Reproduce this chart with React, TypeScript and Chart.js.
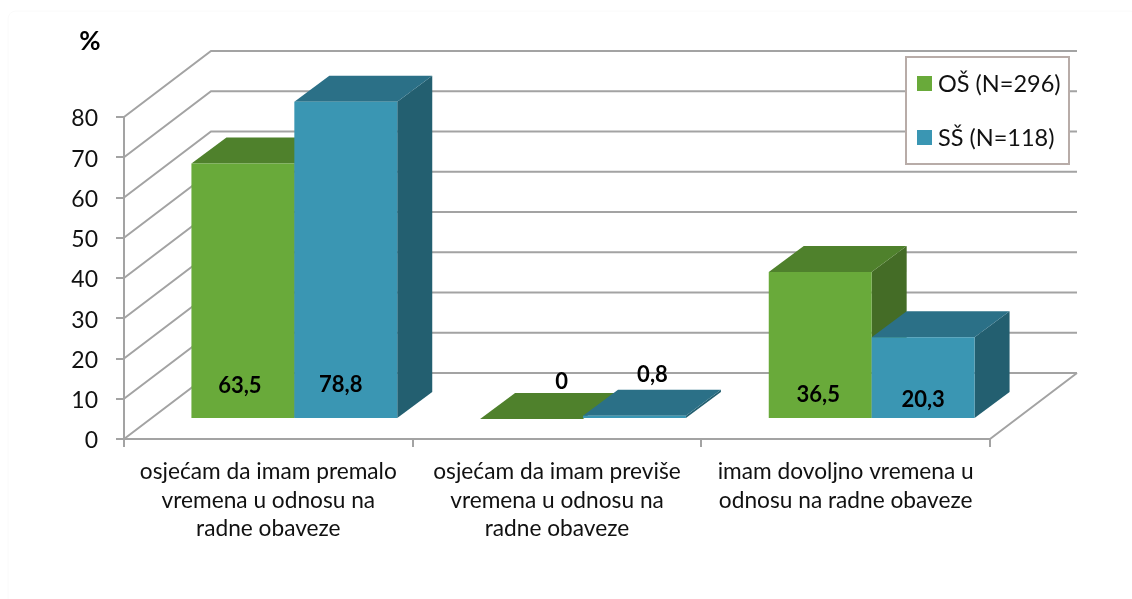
import React, { useEffect, useRef } from "react";
import { Chart, registerables } from "chart.js";

Chart.register(...registerables);

const categories = [
  ["osjećam da imam premalo", "vremena u odnosu na", "radne obaveze"],
  ["osjećam da imam previše", "vremena u odnosu na", "radne obaveze"],
  ["imam dovoljno vremena u", "odnosu na radne obaveze"],
];
const osValues = [63.5, 0, 36.5];
const ssValues = [78.8, 0.8, 20.3];
const seriesNames = ["OŠ (N=296)", "SŠ (N=118)"];
const yTicks = [0, 10, 20, 30, 40, 50, 60, 70, 80];

const FONT = "Lato, 'Open Sans', sans-serif";
const GRID = "#a3a3a3";
const faces = [
  { front: "#69aa3a", top: "#4f812c", side: "#446c26" },
  { front: "#3a96b3", top: "#2b7087", side: "#235f70" },
];
// 3D projection of the wall and the bars
const WALL = { dx: 87, dy: -66 };
const BAR_SHIFT = { dx: 26, dy: -20 };
const BAR_DEPTH = { dx: 35, dy: -26 };
// label offsets from the front base centre of each bar
const LABEL_OFFSETS = [
  [[-3, -32], [-5, -33]],
  [[30, -37], [18, -43]],
  [[-2, -23], [0, -18]],
];

const depth3d = {
  id: "depth3d",
  beforeDatasetsDraw(chart: any) {
    const { ctx, scales, chartArea } = chart;
    const { left, right, bottom } = chartArea;
    ctx.save();
    ctx.strokeStyle = "#fafafa";
    ctx.lineWidth = 1;
    ctx.beginPath();
    ctx.roundRect(8, 11, 1130, 600, 8);
    ctx.stroke();
    ctx.strokeStyle = GRID;
    ctx.lineWidth = 2;
    ctx.beginPath();
    yTicks.forEach((t) => {
      const y = scales.y.getPixelForValue(t);
      ctx.moveTo(left, y);
      ctx.lineTo(left + WALL.dx, y + WALL.dy);
      ctx.lineTo(right + WALL.dx, y + WALL.dy);
    });
    ctx.moveTo(right, bottom);
    ctx.lineTo(right + WALL.dx, bottom + WALL.dy);
    ctx.stroke();
    ctx.restore();
  },
  beforeDatasetDraw() {
    return false;
  },
  afterDatasetsDraw(chart: any) {
    const { ctx } = chart;
    const poly = (pts: number[][], fill: string) => {
      ctx.fillStyle = fill;
      ctx.beginPath();
      pts.forEach(([x, y], i) => (i ? ctx.lineTo(x, y) : ctx.moveTo(x, y)));
      ctx.closePath();
      ctx.fill();
    };
    chart.data.datasets.forEach((_: any, d: number) => {
      const meta = chart.getDatasetMeta(d);
      meta.data.forEach((bar: any) => {
        const { x, y, base, width } = bar.getProps(["x", "y", "base", "width"]);
        const l = x - width / 2 + BAR_SHIFT.dx;
        const r = x + width / 2 + BAR_SHIFT.dx;
        const t = y + BAR_SHIFT.dy;
        const b = base + BAR_SHIFT.dy;
        const ox = BAR_DEPTH.dx;
        const oy = BAR_DEPTH.dy;
        poly([[r, t], [r + ox, t + oy], [r + ox, b + oy], [r, b]], faces[d].side);
        poly([[l, t], [l + ox, t + oy], [r + ox, t + oy], [r, t]], faces[d].top);
      });
      ctx.save();
      ctx.translate(BAR_SHIFT.dx, BAR_SHIFT.dy);
      meta.controller.draw();
      ctx.restore();
    });

    // value labels
    ctx.save();
    ctx.font = `bold 22px ${FONT}`;
    ctx.fillStyle = "#000";
    ctx.textAlign = "center";
    ctx.textBaseline = "middle";
    chart.data.datasets.forEach((ds: any, d: number) => {
      chart.getDatasetMeta(d).data.forEach((bar: any, i: number) => {
        const { x, base } = bar.getProps(["x", "base"]);
        const [ox, oy] = LABEL_OFFSETS[i][d];
        const text = String(ds.data[i]).replace(".", ",");
        ctx.fillText(text, x + BAR_SHIFT.dx + ox, base + BAR_SHIFT.dy + oy);
      });
    });

    // unit
    ctx.font = `bold 26px ${FONT}`;
    ctx.fillText("%", 90, 42);

    // legend
    ctx.fillStyle = "#fff";
    ctx.fillRect(906, 57, 163, 107);
    ctx.strokeStyle = "#b8aca8";
    ctx.lineWidth = 2;
    ctx.strokeRect(906, 57, 163, 107);
    ctx.textAlign = "left";
    ctx.font = `23.5px ${FONT}`;
    chart.data.datasets.forEach((ds: any, d: number) => {
      const cy = 84 + d * 54;
      ctx.fillStyle = ds.backgroundColor;
      ctx.fillRect(917, cy - 8, 15, 15);
      ctx.fillStyle = "#111";
      ctx.fillText(ds.label, 938, cy);
    });
    ctx.restore();
  },
};

export default function App() {
  const ref = useRef<HTMLCanvasElement>(null);
  useEffect(() => {
    const chart = new Chart(ref.current!, {
      type: "bar",
      data: {
        labels: categories,
        datasets: [
          { label: seriesNames[0], data: osValues, backgroundColor: faces[0].front, categoryPercentage: 0.713, barPercentage: 1, borderWidth: 0 },
          { label: seriesNames[1], data: ssValues, backgroundColor: faces[1].front, categoryPercentage: 0.713, barPercentage: 1, borderWidth: 0 },
        ],
      },
      options: {
        responsive: false,
        animation: false,
        layout: { padding: { left: 0, top: 117, right: 142, bottom: 0 } },
        plugins: { legend: { display: false }, title: { display: false }, tooltip: { enabled: false } },
        scales: {
          x: {
            afterFit: (s: any) => { s.height = 160; },
            grid: { color: GRID, lineWidth: 2, drawOnChartArea: false, tickLength: 8 },
            border: { color: GRID, width: 2 },
            ticks: { color: "#111", font: { family: FONT, size: 22.7, lineHeight: 1.27 }, maxRotation: 0, minRotation: 0, padding: 10, autoSkip: false },
          },
          y: {
            min: 0,
            max: 80,
            afterFit: (s: any) => { s.width = 124; },
            grid: { color: GRID, lineWidth: 2, drawOnChartArea: false, tickLength: 8 },
            border: { color: GRID, width: 2 },
            ticks: { color: "#111", stepSize: 10, font: { family: FONT, size: 23 }, padding: 18, labelOffset: 2 },
          },
        },
      },
      plugins: [depth3d],
    } as any);
    return () => chart.destroy();
  }, []);
  return (
    <canvas
      ref={ref}
      width={1132}
      height={599}
      style={{ position: "absolute", left: 0, top: 0, display: "block" }}
    />
  );
}
